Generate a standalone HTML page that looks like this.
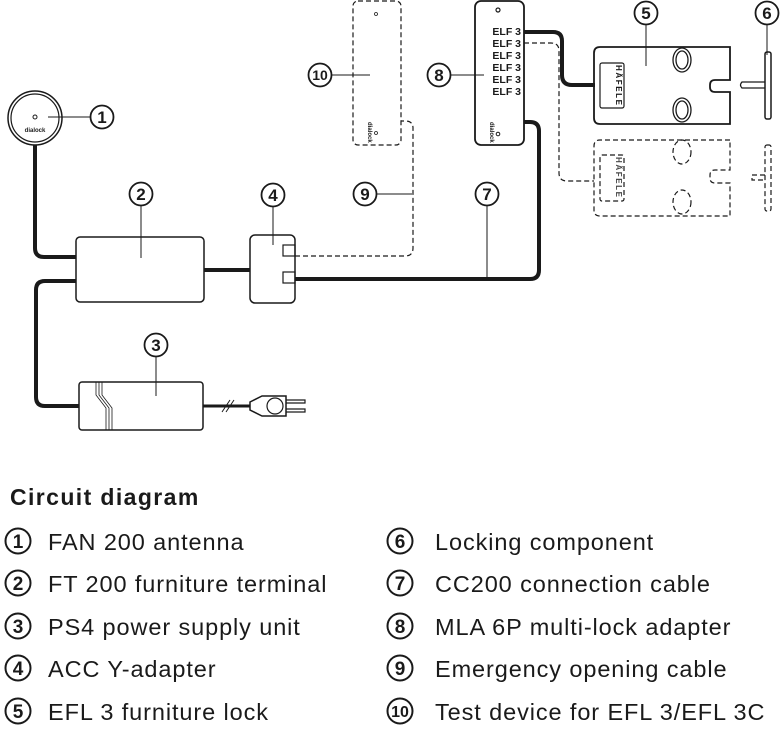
<!DOCTYPE html>
<html><head><style>
html,body{margin:0;padding:0;background:#fff;}
svg{display:block;}
text{font-family:"Liberation Sans",sans-serif;fill:#1a1a1a;}
</style></head><body>
<svg width="780" height="730" viewBox="0 0 780 730" xmlns="http://www.w3.org/2000/svg">
<g fill="none" stroke="#1a1a1a">
<path d="M35 145 V248 Q35 257 44 257 H76" stroke-width="4"/>
<path d="M76 281 H45 Q36 281 36 290 V397 Q36 406 45 406 H79" stroke-width="4"/>
<path d="M204 270 H250" stroke-width="4"/>
<path d="M295 279 H530 Q539 279 539 270 V131 Q539 122 530 122 H524" stroke-width="4"/>
<path d="M524 32 H553 Q562 32 562 41 V75 Q562 85 572 85 H595" stroke-width="4"/>
<path d="M203 406 H250" stroke-width="3"/>
<g stroke-width="1.2" stroke-dasharray="5,3">
<path d="M295 256 H405 Q413 256 413 248 V128 Q413 121 405 121 H401"/>
<path d="M524 43 H551 Q559 43 559 51 V173 Q559 181 567 181 H594"/>
<rect x="353" y="1" width="48" height="144" rx="5"/>
<path d="M730 140 H600 Q594 140 594 146 V210 Q594 216 600 216 H730 V183 H715 Q710 183 710 178 V175 Q710 170 715 170 H730 Z"/>
<rect x="600" y="155" width="24" height="46" rx="2"/>
<ellipse cx="682" cy="152" rx="9" ry="12"/><ellipse cx="682" cy="202" rx="9" ry="12"/>
<rect x="765" y="145" width="6" height="66" rx="2"/>
<path d="M765 175 H752 V180 H765"/>
</g>
<circle cx="35" cy="118" r="27" stroke-width="1.5"/>
<circle cx="35" cy="118" r="24" stroke-width="1.2"/>
<circle cx="35" cy="117" r="2" stroke-width="1"/>
<rect x="76" y="237" width="128" height="65" rx="4" stroke-width="1.5"/>
<rect x="79" y="382" width="124" height="48" rx="3" stroke-width="1.5"/>
<path d="M96 382 V395 L106 408 V430 M99 382 V395 L109 408 V430 M102 382 V395 L112 408 V430" stroke-width="0.8"/>
<rect x="250" y="235" width="45" height="68" rx="5" stroke-width="1.5"/>
<rect x="283" y="245" width="12" height="11" stroke-width="1.2"/>
<rect x="283" y="272" width="12" height="11" stroke-width="1.2"/>
<path d="M222 412 L230 400 M226 412 L234 400" stroke-width="1"/>
<path d="M250 402 L262 396 H286 V416 H262 L250 410 Z" stroke-width="1.5"/>
<circle cx="275" cy="406" r="8" stroke-width="1.2"/>
<path d="M286 400 H305 V403 H286 M286 409 H305 V412 H286" stroke-width="1.2"/>
<rect x="475" y="1" width="49" height="144" rx="6" stroke-width="1.8"/>
<circle cx="498" cy="10" r="2" stroke-width="1.2"/>
<circle cx="498" cy="134" r="1.8" stroke-width="1"/>
<circle cx="376" cy="14" r="1.5" stroke-width="0.8"/>
<circle cx="376" cy="133" r="1.5" stroke-width="0.8"/>
<path d="M730 47 H600 Q594 47 594 53 V118 Q594 124 600 124 H730 V92 H715 Q710 92 710 87 V85 Q710 80 715 80 H730 Z" stroke-width="1.8"/>
<rect x="600" y="63" width="24" height="45" rx="2" stroke-width="1.2"/>
<ellipse cx="682" cy="60" rx="9" ry="12" stroke-width="1.3"/><ellipse cx="682" cy="60" rx="6" ry="9" stroke-width="1.3"/>
<ellipse cx="682" cy="110" rx="9" ry="12" stroke-width="1.3"/><ellipse cx="682" cy="110" rx="6" ry="9" stroke-width="1.3"/>
<rect x="765" y="52" width="6" height="67" rx="2" stroke-width="1.5"/>
<path d="M765 82 H742 Q739 85 742 88 H765" stroke-width="1.3"/>
<g stroke-width="1">
<path d="M48 117 H90 M141 206 V258 M273 206 V245 M156 357 V396 M332 75 H370 M451 75 H484 M377 194 H412 M487 206 V278 M646 25 V66 M767 25 V55"/>
</g>
<g stroke-width="1.8">
<circle cx="102" cy="117" r="11.5"/><circle cx="141" cy="194" r="11.5"/><circle cx="156" cy="345" r="11.5"/>
<circle cx="273" cy="195" r="11.5"/><circle cx="646" cy="13" r="11.5"/><circle cx="767" cy="13" r="11.5"/>
<circle cx="487" cy="194" r="11.5"/><circle cx="439" cy="75" r="11.5"/><circle cx="365" cy="194" r="11.5"/><circle cx="320" cy="75" r="11.5"/>
</g>
</g>
<g font-weight="bold" font-size="17" text-anchor="middle">
<text x="102" y="123">1</text><text x="141" y="200">2</text><text x="156" y="351">3</text>
<text x="273" y="201">4</text><text x="646" y="19">5</text><text x="767" y="19">6</text>
<text x="487" y="200">7</text><text x="439" y="81">8</text><text x="365" y="200">9</text>
<text x="320" y="80" font-size="14">10</text>
</g>
<g font-weight="bold" font-size="10.5" text-anchor="end">
<text x="521" y="35">ELF 3</text><text x="521" y="47">ELF 3</text><text x="521" y="59">ELF 3</text>
<text x="521" y="71">ELF 3</text><text x="521" y="83">ELF 3</text><text x="521" y="95">ELF 3</text>
</g>
<text x="35" y="132" font-size="6" font-weight="bold" text-anchor="middle">dialock</text>
<text font-size="6" font-weight="bold" transform="translate(490,122) rotate(90)">dialock</text>
<text font-size="6" font-weight="bold" transform="translate(368,122) rotate(90)">dialock</text>
<text font-size="8" font-weight="bold" transform="translate(616,65) rotate(90)" textLength="40">HÄFELE</text>
<text font-size="8" font-weight="bold" transform="translate(616,157) rotate(90)" textLength="40" opacity="0.8">HÄFELE</text>
<text x="10" y="505" font-size="23" font-weight="bold" letter-spacing="1.4">Circuit diagram</text>
<g fill="none" stroke="#1a1a1a" stroke-width="2">
<circle cx="18" cy="541" r="12.5"/><circle cx="18" cy="583" r="12.5"/><circle cx="18" cy="626" r="12.5"/><circle cx="18" cy="668" r="12.5"/><circle cx="18" cy="711" r="12.5"/>
<circle cx="400" cy="541" r="12.5"/><circle cx="400" cy="583" r="12.5"/><circle cx="400" cy="626" r="12.5"/><circle cx="400" cy="668" r="12.5"/><circle cx="400" cy="711" r="12.5"/>
</g>
<g font-weight="bold" font-size="19" text-anchor="middle">
<text x="18" y="548">1</text><text x="18" y="590">2</text><text x="18" y="633">3</text><text x="18" y="675">4</text><text x="18" y="718">5</text>
<text x="400" y="548">6</text><text x="400" y="590">7</text><text x="400" y="633">8</text><text x="400" y="675">9</text><text x="400" y="717" font-size="16">10</text>
</g>
<g font-size="23.5" letter-spacing="0.9">
<text x="48" y="550">FAN 200 antenna</text>
<text x="48" y="592">FT 200 furniture terminal</text>
<text x="48" y="635">PS4 power supply unit</text>
<text x="48" y="677">ACC Y-adapter</text>
<text x="48" y="720">EFL 3 furniture lock</text>
<text x="435" y="550">Locking component</text>
<text x="435" y="592">CC200 connection cable</text>
<text x="435" y="635">MLA 6P multi-lock adapter</text>
<text x="435" y="677">Emergency opening cable</text>
<text x="435" y="720">Test device for EFL 3/EFL 3C</text>
</g>
</svg>
</body></html>
